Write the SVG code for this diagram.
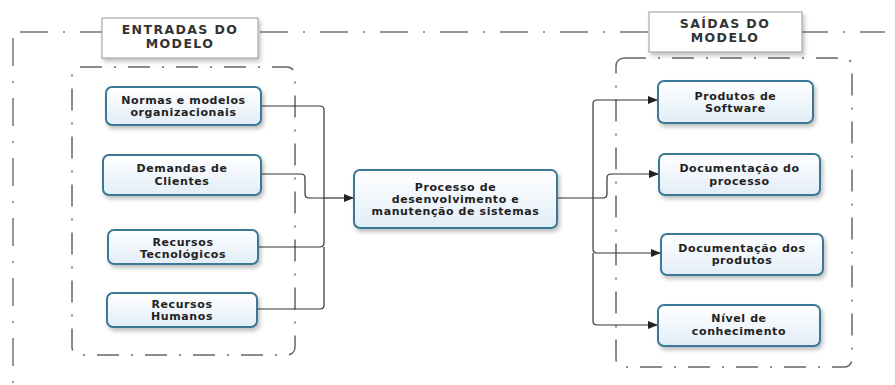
<svg xmlns="http://www.w3.org/2000/svg" width="895" height="385" viewBox="0 0 895 385">
<defs>
<linearGradient id="ng" x1="0" y1="0" x2="0" y2="1">
<stop offset="0" stop-color="#ffffff"/>
<stop offset="1" stop-color="#e2edf7"/>
</linearGradient>
<filter id="sh" x="-10%" y="-10%" width="130%" height="140%">
<feDropShadow dx="2" dy="3" stdDeviation="2" flood-color="#000" flood-opacity="0.25"/>
</filter>
<marker id="ar" markerWidth="10" markerHeight="8" refX="10" refY="4" orient="auto" markerUnits="userSpaceOnUse">
<path d="M0,0 L10,4 L0,8 z" fill="#222"/>
</marker>
<style>
.frame{fill:none;stroke:#777;stroke-width:1.5;stroke-dasharray:28 15 2 15}
.inner{fill:none;stroke:#666;stroke-width:1.5;stroke-dasharray:22 12 2 12}
.title rect{fill:#fff;stroke:#999;stroke-width:1;filter:url(#sh)}
.title text{font-family:"DejaVu Sans",Verdana,sans-serif;font-weight:bold;font-size:12.5px;fill:#333;text-anchor:middle;letter-spacing:1.4px}
.node rect{fill:url(#ng);stroke:#3a7896;stroke-width:2;filter:url(#sh)}
.node text{font-family:"DejaVu Sans",Verdana,sans-serif;font-weight:bold;font-size:11px;fill:#222;text-anchor:middle;letter-spacing:0.6px}
.con path{fill:none;stroke:#333;stroke-width:1.2}
</style>
</defs>
<rect width="895" height="385" fill="#fff"/>
<g id="frames">
<path class="frame" d="M20,32 H885"/>
<path class="frame" d="M13,38 V385"/>
<rect class="inner" x="72" y="67" width="223" height="288" rx="8"/>
<rect class="inner" x="616" y="58" width="236" height="309" rx="8"/>
</g>
<g id="t-entradas" class="title">
<rect x="102" y="18" width="156" height="40"/>
<text x="180" y="33.5">ENTRADAS DO</text>
<text x="180" y="48">MODELO</text>
</g>
<g id="t-saidas" class="title">
<rect x="649" y="12" width="153" height="40"/>
<text x="725" y="27.5">SAÍDAS DO</text>
<text x="725" y="42">MODELO</text>
</g>
<g id="connectors" class="con">
<path d="M261,106 H320 Q324,106 324,110 V198"/>
<path d="M261,174 H301 Q305,174 305,178 V194 Q305,198 309,198 H324"/>
<path d="M258,247 H320 Q324,247 324,243 V198"/>
<path d="M257,309 H320 Q324,309 324,305 V247"/>
<path d="M324,198 H354" marker-end="url(#ar)"/>
<path d="M557,198 H593"/>
<path d="M593,198 V104 Q593,100 597,100 H658" marker-end="url(#ar)"/>
<path d="M593,198 H603 Q607,198 607,194 V178 Q607,174 611,174 H659" marker-end="url(#ar)"/>
<path d="M593,198 V249 Q593,253 597,253 H661" marker-end="url(#ar)"/>
<path d="M593,253 V321 Q593,325 597,325 H658" marker-end="url(#ar)"/>
</g>
<g id="n-normas" class="node">
<rect x="106" y="87" width="155" height="38" rx="6"/>
<text x="183.5" y="104">Normas e modelos</text>
<text x="183.5" y="116">organizacionais</text>
</g>
<g id="n-demandas" class="node">
<rect x="103" y="155" width="158" height="40" rx="6"/>
<text x="182" y="172">Demandas de</text>
<text x="182" y="185">Clientes</text>
</g>
<g id="n-tecnologicos" class="node">
<rect x="108" y="230" width="150" height="34" rx="6"/>
<text x="183" y="245.5">Recursos</text>
<text x="183" y="257.5">Tecnológicos</text>
</g>
<g id="n-humanos" class="node">
<rect x="107" y="293" width="150" height="34" rx="6"/>
<text x="182" y="308">Recursos</text>
<text x="182" y="320">Humanos</text>
</g>
<g id="n-processo" class="node">
<rect x="354" y="170" width="203" height="58" rx="6"/>
<text x="455.5" y="191">Processo de</text>
<text x="455.5" y="203">desenvolvimento e</text>
<text x="455.5" y="214.5">manutenção de sistemas</text>
</g>
<g id="n-produtos" class="node">
<rect x="658" y="81" width="155" height="42" rx="6"/>
<text x="735.5" y="100">Produtos de</text>
<text x="735.5" y="112">Software</text>
</g>
<g id="n-docproc" class="node">
<rect x="659" y="154" width="161" height="41" rx="6"/>
<text x="739.5" y="172">Documentação do</text>
<text x="739.5" y="185">processo</text>
</g>
<g id="n-docprod" class="node">
<rect x="661" y="234" width="162" height="41" rx="6"/>
<text x="742" y="252">Documentação dos</text>
<text x="742" y="264">produtos</text>
</g>
<g id="n-nivel" class="node">
<rect x="658" y="305" width="162" height="41" rx="6"/>
<text x="739" y="322">Nível de</text>
<text x="739" y="335">conhecimento</text>
</g>
</svg>
